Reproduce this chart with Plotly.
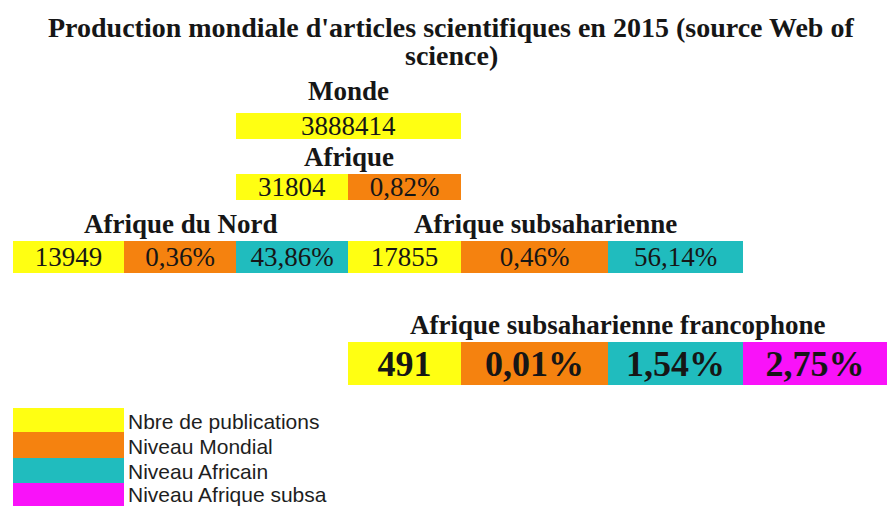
import plotly.graph_objects as go

# --- data -------------------------------------------------------------
regions = ["Monde", "Afrique", "Afrique du Nord", "Afrique subsaharienne",
           "Afrique subsaharienne francophone"]
nb_publications = [3888414, 31804, 13949, 17855, 491]
niveau_mondial = [None, 0.82, 0.36, 0.46, 0.01]      # % de la production mondiale
niveau_africain = [None, None, 43.86, 56.14, 1.54]   # % de la production africaine
niveau_subsa = [None, None, None, None, 2.75]        # % de l'Afrique subsaharienne

series_names = ["Nbre de publications", "Niveau Mondial", "Niveau Africain",
                "Niveau Afrique subsa"]
series_values = [nb_publications, niveau_mondial, niveau_africain, niveau_subsa]
colors = ["#FFFF12", "#F5820F", "#20BCBE", "#F912F9"]

title_lines = ["Production mondiale d'articles scientifiques en 2015 (source Web of",
               "science)"]

# --- page grid (pixels) -----------------------------------------------
W, H = 887, 506
col_edges = [13, 124, 236, 348, 461, 608, 743, 887]
first_col = [2, 2, 0, 3, 3]          # first column of each block
pub_span = [2, 1, 1, 1, 1]           # "Monde" cell spans two columns
row_band = [(113, 139), (174, 200), (241, 273), (241, 273), (342, 385)]
label_gap = [22, 17, 17, 17, 17]

SERIF = "Liberation Serif, Times New Roman, serif"
SANS = "Liberation Sans, Arial, sans-serif"
INK = "#161616"


def fmt(i, v):
    if i == 0:
        return str(v)
    return f"{v:.2f}".replace(".", ",") + "%"


fig = go.Figure()

for i, vals in enumerate(series_values):
    ys, xs, bases, widths, texts, sizes = [], [], [], [], [], []
    for r, v in enumerate(vals):
        if v is None:
            continue
        if i == 0:
            c0, c1 = first_col[r], first_col[r] + pub_span[r]
        else:
            c0 = first_col[r] + pub_span[r] + i - 1
            c1 = c0 + 1
        y0, y1 = row_band[r]
        ys.append((y0 + y1) / 2)
        bases.append(col_edges[c0])
        xs.append(col_edges[c1] - col_edges[c0])
        widths.append(y1 - y0)
        big = r == len(regions) - 1
        t = fmt(i, v)
        texts.append(f"<b>{t}</b>" if big else t)
        sizes.append(36 if big else 27)
    fig.add_trace(go.Bar(
        orientation="h", y=ys, x=xs, base=bases, width=widths,
        marker=dict(color=colors[i], line=dict(width=0)),
        text=texts, textposition="inside", insidetextanchor="middle",
        textangle=0, constraintext="none",
        textfont=dict(family=SERIF, size=sizes, color=INK),
        name=series_names[i], hoverinfo="skip", cliponaxis=False,
    ))

# block titles
for r, name in enumerate(regions):
    c0 = first_col[r]
    n_cells = pub_span[r] + sum(1 for s in series_values[1:] if s[r] is not None)
    xc = (col_edges[c0] + col_edges[c0 + n_cells]) / 2
    fig.add_annotation(x=xc, y=row_band[r][0] - label_gap[r], text=f"<b>{name}</b>",
                       showarrow=False, xanchor="center", yanchor="middle",
                       font=dict(family=SERIF, size=27, color=INK))

# main title (two lines, tight leading as in the source)
for line, yc in zip(title_lines, [27, 55]):
    fig.add_annotation(x=451, y=yc, text=f"<b>{line}</b>", showarrow=False,
                       xanchor="center", yanchor="middle",
                       font=dict(family=SERIF, size=28, color=INK))

# colour key
key_bands = [(408, 432), (432, 458), (458, 483), (483, 510)]
for (y0, y1), name, col in zip(key_bands, series_names, colors):
    fig.add_shape(type="rect", x0=13, x1=124, y0=y0, y1=y1, xref="x", yref="y",
                  fillcolor=col, line=dict(width=0), layer="below")
    fig.add_annotation(x=126, y=min((y0 + y1) / 2 + 1, 494), text=name, showarrow=False,
                       xanchor="left", yanchor="middle",
                       font=dict(family=SANS, size=21, color="#1e1e1e"))

fig.update_layout(
    width=W, height=H,
    margin=dict(l=0, r=0, t=0, b=0),
    paper_bgcolor="white", plot_bgcolor="white",
    showlegend=False, barmode="overlay",
    xaxis=dict(range=[0, W], visible=False, fixedrange=True),
    yaxis=dict(range=[H, 0], visible=False, fixedrange=True),
)

fig.write_html("out.html", config={"displayModeBar": False},
               post_script="document.body.style.margin = '0';")
